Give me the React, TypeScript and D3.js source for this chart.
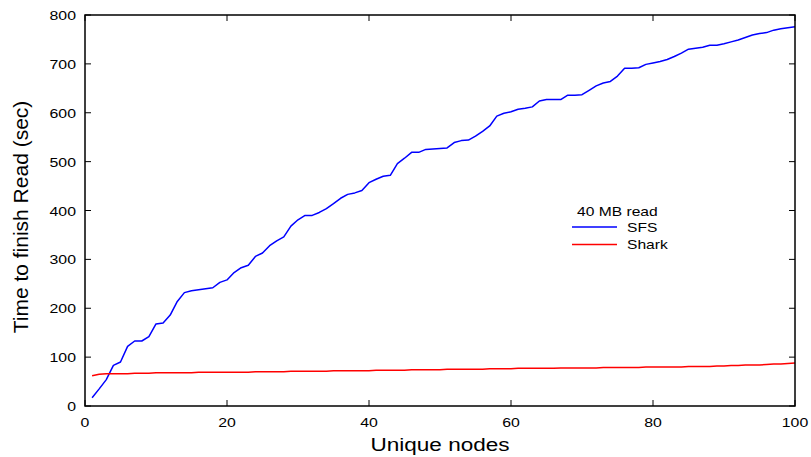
import React, { useEffect, useRef } from 'react';
import * as d3 from 'd3';

// unique nodes 1..100
const nodes: number[] = d3.range(1, 101);

// SFS read time (sec)
const sfsValues: number[] = [
  17, 35, 54, 83, 90, 122, 133, 133, 142, 168,
  170, 186, 214, 232, 236, 238, 240, 242, 253, 258,
  273, 283, 288, 306, 313, 328, 338, 346, 368, 381,
  390, 390, 396, 404, 414, 425, 433, 436, 441, 457,
  464, 470, 472, 496, 507, 519, 519, 525, 526, 527,
  528, 539, 543, 544, 552, 562, 573, 593, 599, 602,
  607, 609, 612, 624, 627, 627, 627, 636, 636, 637,
  646, 655, 661, 664, 675, 691, 691, 692, 699, 702,
  705, 709, 715, 722, 730, 732, 734, 738, 738, 741,
  745, 749, 754, 759, 762, 764, 769, 772, 774, 776,
];

// Shark read time (sec)
const sharkValues: number[] = [
  62, 65, 66, 66, 66, 66, 67, 67, 67, 68,
  68, 68, 68, 68, 68, 69, 69, 69, 69, 69,
  69, 69, 69, 70, 70, 70, 70, 70, 71, 71,
  71, 71, 71, 71, 72, 72, 72, 72, 72, 72,
  73, 73, 73, 73, 73, 74, 74, 74, 74, 74,
  75, 75, 75, 75, 75, 75, 76, 76, 76, 76,
  77, 77, 77, 77, 77, 77, 78, 78, 78, 78,
  78, 78, 79, 79, 79, 79, 79, 79, 80, 80,
  80, 80, 80, 80, 81, 81, 81, 81, 82, 82,
  83, 83, 84, 84, 84, 85, 86, 86, 87, 88,
];

const xTicks = [0, 20, 40, 60, 80, 100];
const yTicks = [0, 100, 200, 300, 400, 500, 600, 700, 800];

const series = [
  { name: 'SFS', values: sfsValues, color: '#0000ff' },
  { name: 'Shark', values: sharkValues, color: '#ff0000' },
];

const App = () => {
  const svgRef = useRef<SVGSVGElement>(null);

  useEffect(() => {
    const width = 811;
    const height = 457;
    const margin = { top: 15, right: 16, bottom: 51, left: 85 };
    const w = width - margin.left - margin.right;
    const h = height - margin.top - margin.bottom;

    const svg = d3.select(svgRef.current);
    svg.selectAll('*').remove();
    svg.attr('width', width).attr('height', height);

    const g = svg.append('g').attr('transform', `translate(${margin.left},${margin.top})`);

    const x = d3.scaleLinear().domain([0, 100]).range([0, w]);
    const y = d3.scaleLinear().domain([0, 800]).range([h, 0]);
    const font = 'Liberation Sans, Arial, sans-serif';
    // the original text is a bit wider than it is tall
    const stretch = 1.22;

    const label = (parent: any, px: number, py: number, txt: string | number,
      size: number, anchor = 'start') => parent.append('text')
      .attr('transform', `translate(${px},${py}) scale(${stretch},1)`)
      .attr('text-anchor', anchor)
      .attr('font-family', font)
      .attr('font-size', size)
      .text(txt);

    // ticks on all four sides, pointing inward
    const tick = 6;
    xTicks.forEach((t) => {
      g.append('line').attr('x1', x(t)).attr('x2', x(t)).attr('y1', h).attr('y2', h - tick)
        .attr('stroke', '#000').attr('stroke-width', 1);
      g.append('line').attr('x1', x(t)).attr('x2', x(t)).attr('y1', 0).attr('y2', tick)
        .attr('stroke', '#000').attr('stroke-width', 1);
      label(g, x(t), h + 21, t, 13, 'middle');
    });
    yTicks.forEach((t) => {
      g.append('line').attr('x1', 0).attr('x2', tick).attr('y1', y(t)).attr('y2', y(t))
        .attr('stroke', '#000').attr('stroke-width', 1);
      g.append('line').attr('x1', w).attr('x2', w - tick).attr('y1', y(t)).attr('y2', y(t))
        .attr('stroke', '#000').attr('stroke-width', 1);
      label(g, -9, y(t) + 5, t, 13, 'end');
    });

    // lines
    const line = d3.line<number>()
      .x((_, i) => x(nodes[i]))
      .y((d) => y(d));

    series.forEach((s) => {
      g.append('path')
        .datum(s.values)
        .attr('fill', 'none')
        .attr('stroke', s.color)
        .attr('stroke-width', 1.5)
        .attr('stroke-linejoin', 'round')
        .attr('d', line);
    });

    // frame
    g.append('rect').attr('x', 0).attr('y', 0).attr('width', w).attr('height', h)
      .attr('fill', 'none').attr('stroke', '#000').attr('stroke-width', 1.5);

    // legend
    const lg = g.append('g').attr('transform', `translate(${572 - margin.left},${215 - margin.top})`);
    label(lg, 5, 1, '40 MB read', 12.8);
    series.forEach((s, i) => {
      const yy = 12 + i * 17.5;
      lg.append('line').attr('x1', 0).attr('x2', 45).attr('y1', yy).attr('y2', yy)
        .attr('stroke', s.color).attr('stroke-width', 1.5);
      label(lg, 55, yy + 4.5, s.name, 12.8);
    });

    // axis titles
    label(svg, margin.left + w / 2, 451, 'Unique nodes', 18.5, 'middle');
    svg.append('text')
      .attr('transform', 'translate(28,217) rotate(-90)')
      .attr('text-anchor', 'middle')
      .attr('font-family', font).attr('font-size', 21).text('Time to finish Read (sec)');
  }, []);

  return (
    <div style={{ position: 'absolute', left: 0, top: 0 }}>
      <svg ref={svgRef} />
    </div>
  );
};

export default App;
